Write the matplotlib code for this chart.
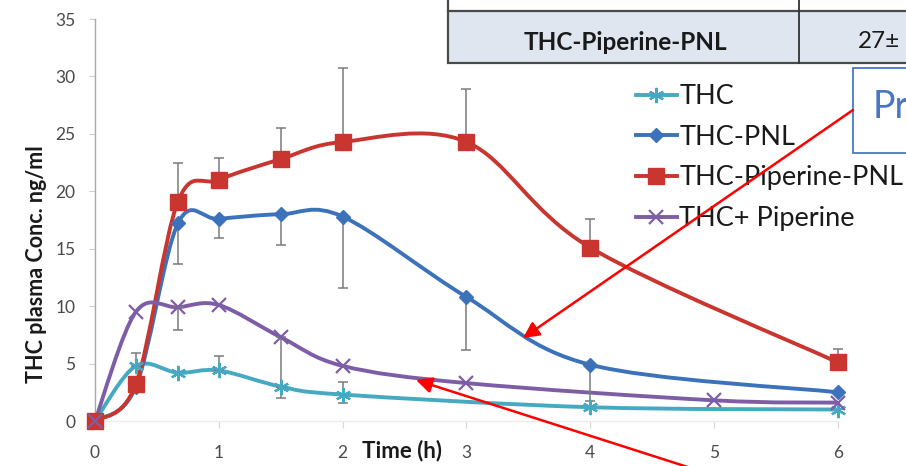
import matplotlib
matplotlib.use('Agg')
import matplotlib.pyplot as plt
import numpy as np
from matplotlib.path import Path
from matplotlib.patches import PathPatch, Rectangle, FancyArrowPatch
from matplotlib.lines import Line2D

W, H = 906, 466
FONT = ['Lato', 'DejaVu Sans']
plt.rcParams['font.family'] = FONT

# ---------------- data ----------------
t_thc = [0, 0.33, 0.67, 1, 1.5, 2, 4, 6]
thc = [0, 4.8, 4.2, 4.4, 3.0, 2.3, 1.2, 1.0]
thc_err_up = [0, 1.1, 0, 1.3, 0, 1.1, 0, 0]
thc_err_dn = [0, 0, 0, 0, 1.0, 0.7, 0, 0]

t_pnl = [0, 0.33, 0.67, 1, 1.5, 2, 3, 4, 6]
pnl = [0, 3.0, 17.2, 17.6, 18.0, 17.8, 10.8, 4.9, 2.5]
pnl_err_dn = [0, 0, 3.5, 1.7, 2.7, 6.2, 4.6, 3.2, 0]

t_pip_pnl = [0, 0.33, 0.67, 1, 1.5, 2, 3, 4, 6]
pip_pnl = [0, 3.2, 19.1, 21.0, 22.8, 24.3, 24.3, 15.1, 5.1]
pip_pnl_err_up = [0, 0, 3.4, 1.9, 2.7, 6.4, 4.6, 2.5, 1.2]

t_pip = [0, 0.33, 0.67, 1, 1.5, 2, 3, 5, 6]
pip = [0, 9.5, 9.9, 10.1, 7.3, 4.8, 3.3, 1.8, 1.6]
pip_err_dn = [0, 0, 2.0, 0, 4.3, 0, 0, 0, 0]

labels = ['THC', 'THC-PNL', 'THC-Piperine-PNL', 'THC+ Piperine']
x_ticks = [0, 1, 2, 3, 4, 5, 6]
y_ticks = [0, 5, 10, 15, 20, 25, 30, 35]

colors = ['#45a9c2', '#3b72b9', '#c9362f', '#7d5ea6']


def fx(px):
    return px / W


def fy(py):
    return 1 - py / H


def smooth_path(x, y):
    P = np.column_stack([x, y]).astype(float)
    n = len(P)
    verts = [P[0]]
    codes = [Path.MOVETO]
    for i in range(n - 1):
        p0 = P[i - 1] if i > 0 else P[i]
        p1 = P[i]
        p2 = P[i + 1]
        p3 = P[i + 2] if i + 2 < n else P[i + 1]
        c1 = p1 + (p2 - p0) / 6.0
        c2 = p2 - (p3 - p1) / 6.0
        verts += [c1, c2, p2]
        codes += [Path.CURVE4] * 3
    return Path(verts, codes)


fig = plt.figure(figsize=(W / 100, H / 100), dpi=100)
fig.patch.set_facecolor('white')

ppu_x = 123.8
x_max = 6.4
ax_left, ax_bottom = 95, 421
ax_w = ppu_x * x_max
ax_h = 402
ax = fig.add_axes([fx(ax_left), 1 - ax_bottom / H, ax_w / W, ax_h / H])
ax.set_xlim(0, x_max)
ax.set_ylim(0, 35)
ax.patch.set_alpha(0)

for s in ['top', 'right']:
    ax.spines[s].set_visible(False)
ax.spines['left'].set_color('#a8a8a8')
ax.spines['left'].set_linewidth(1.0)
ax.spines['bottom'].set_color('#ececec')
ax.spines['bottom'].set_linewidth(1.0)
ax.spines['bottom'].set_bounds(0, 6)

ax.set_xticks(x_ticks)
ax.set_yticks(y_ticks)
ax.tick_params(axis='x', length=5, color='#d8d8d8', pad=12, labelsize=12.5, labelcolor='#4a4a4a')
ax.tick_params(axis='y', length=4, color='#d0d0d0', pad=10, labelsize=12.5, labelcolor='#4a4a4a')

series = [
    (t_thc, thc, dict(marker=(6, 2, 0), markersize=11, markeredgewidth=1.6)),
    (t_pnl, pnl, dict(marker='D', markersize=7, markeredgewidth=1.0)),
    (t_pip_pnl, pip_pnl, dict(marker='s', markersize=11.5, markeredgewidth=1.0)),
    (t_pip, pip, dict(marker='x', markersize=10, markeredgewidth=1.6)),
]

LW = 2.8
handles = []
for (tx, ty, mk), c, lab in zip(series, colors, labels):
    ax.add_patch(PathPatch(smooth_path(tx, ty), fill=False, edgecolor=c, lw=LW,
                           capstyle='round', joinstyle='round', zorder=2, clip_on=False))
    ax.plot(tx, ty, linestyle='none', color=c, markeredgecolor=c, zorder=3, clip_on=False, **mk)
    handles.append(Line2D([], [], color=c, lw=LW, markeredgecolor=c, **mk))


def draw_err(tx, ty, dn, up):
    idx = [i for i in range(len(tx)) if dn[i] > 0 or up[i] > 0]
    ax.errorbar([tx[i] for i in idx], [ty[i] for i in idx],
                yerr=[[dn[i] for i in idx], [up[i] for i in idx]],
                fmt='none', ecolor='#7a7a7a', elinewidth=1.1, capsize=3.5, capthick=1.1,
                zorder=2.5)


draw_err(t_thc, thc, thc_err_dn, thc_err_up)
draw_err(t_pnl, pnl, pnl_err_dn, [0] * len(t_pnl))
draw_err(t_pip_pnl, pip_pnl, [0] * len(t_pip_pnl), pip_pnl_err_up)
draw_err(t_pip, pip, pip_err_dn, [0] * len(t_pip))

# axis titles
fig.text(fx(37), fy(264), 'THC plasma Conc. ng/ml', rotation=90, ha='center', va='center',
         fontsize=15.5, fontweight='bold', color='#1a1a1a')
fig.text(fx(402), fy(451), 'Time (h)', ha='center', va='center',
         fontsize=16, fontweight='bold', color='#1a1a1a')

# legend
leg = fig.legend(handles, labels, loc='upper left', bbox_to_anchor=(fx(636), fy(84)),
                 frameon=False, fontsize=19.5, handlelength=1.5, handletextpad=0.1,
                 labelspacing=0.58, borderpad=0, borderaxespad=0)
for t in leg.get_texts():
    t.set_color('#1a1a1a')

# table fragment (top right)
fig.patches.append(Rectangle((fx(448), fy(63)), fx(906 + 10) - fx(448), fy(11) - fy(63),
                             transform=fig.transFigure, facecolor='#dfe6f0',
                             edgecolor='#4a4a4a', lw=1.6, zorder=5))
fig.lines.append(Line2D([fx(448), fx(448)], [fy(0), fy(11)], transform=fig.transFigure,
                        color='#4a4a4a', lw=1.6, zorder=5))
fig.lines.append(Line2D([fx(799), fx(799)], [fy(0), fy(63)], transform=fig.transFigure,
                        color='#333333', lw=1.3, zorder=6))
fig.text(fx(625), fy(42), 'THC-Piperine-PNL', ha='center', va='center', fontsize=17.5,
         fontweight='bold', color='#1a1a1a', zorder=7)
fig.text(fx(858), fy(42), '27±', ha='left', va='center', fontsize=17.5,
         color='#1a1a1a', zorder=7)

# callout box
fig.patches.append(Rectangle((fx(853), fy(153)), fx(920) - fx(853), fy(68) - fy(153),
                             transform=fig.transFigure, facecolor='white',
                             edgecolor='#4a76c4', lw=1.3, zorder=5))
fig.text(fx(873), fy(107), 'Pr', ha='left', va='center', fontsize=27,
         color='#4a76c4', zorder=7)

# red arrows
for (x0, y0), (x1, y1) in [((853, 110), (523, 338)), ((697, 470), (416, 380))]:
    fig.patches.append(FancyArrowPatch((fx(x0), fy(y0)), (fx(x1), fy(y1)),
                                       transform=fig.transFigure, arrowstyle='-|>',
                                       mutation_scale=24, color='#ff0000', lw=1.8,
                                       shrinkA=0, shrinkB=0, zorder=8))

fig.savefig('out.png', dpi=100, facecolor='white')
